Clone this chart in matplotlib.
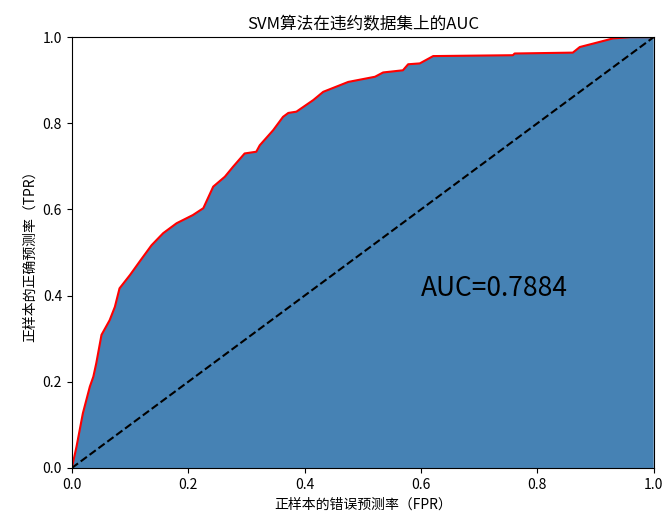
import matplotlib
matplotlib.use('Agg')
import matplotlib.pyplot as plt

plt.rcParams['font.family'] = ['Noto Sans CJK SC', 'DejaVu Sans']
plt.rcParams['axes.unicode_minus'] = False

# ROC 曲线上的点
fpr = [0.0, 0.008, 0.019, 0.031, 0.037, 0.042, 0.051, 0.065, 0.074, 0.082,
       0.100, 0.117, 0.137, 0.157, 0.180, 0.208, 0.226, 0.243, 0.263, 0.277,
       0.297, 0.317, 0.323, 0.346, 0.363, 0.372, 0.386, 0.415, 0.432, 0.475,
       0.521, 0.535, 0.569, 0.578, 0.598, 0.621, 0.758, 0.761, 0.861, 0.873,
       0.896, 0.913, 0.930, 0.960, 1.0]
tpr = [0.0, 0.049, 0.127, 0.189, 0.212, 0.243, 0.309, 0.343, 0.374, 0.417,
       0.448, 0.480, 0.517, 0.545, 0.568, 0.587, 0.603, 0.653, 0.676, 0.699,
       0.730, 0.734, 0.749, 0.784, 0.815, 0.824, 0.827, 0.854, 0.873, 0.896,
       0.908, 0.918, 0.923, 0.937, 0.939, 0.956, 0.958, 0.962, 0.964, 0.977,
       0.985, 0.991, 0.997, 1.0, 1.0]
roc_auc = 0.7884

fig = plt.figure(figsize=(6.65, 5.17), dpi=100)
ax = fig.add_axes([0.108, 0.0948, 0.875, 0.8334])

ax.stackplot(fpr, tpr, colors=['steelblue'])
ax.plot(fpr, tpr, color='red', lw=1.5)
ax.plot([0, 1], [0, 1], color='black', linestyle='--', lw=1.5)
ax.text(0.6, 0.4, 'AUC=%.4f' % roc_auc, fontsize=19)

ax.set_xlim(0, 1)
ax.set_ylim(0, 1)
ax.set_title('SVM算法在违约数据集上的AUC')
ax.set_xlabel('正样本的错误预测率（FPR）')
ax.set_ylabel('正样本的正确预测率（TPR）')

fig.savefig('out.png', dpi=100)
